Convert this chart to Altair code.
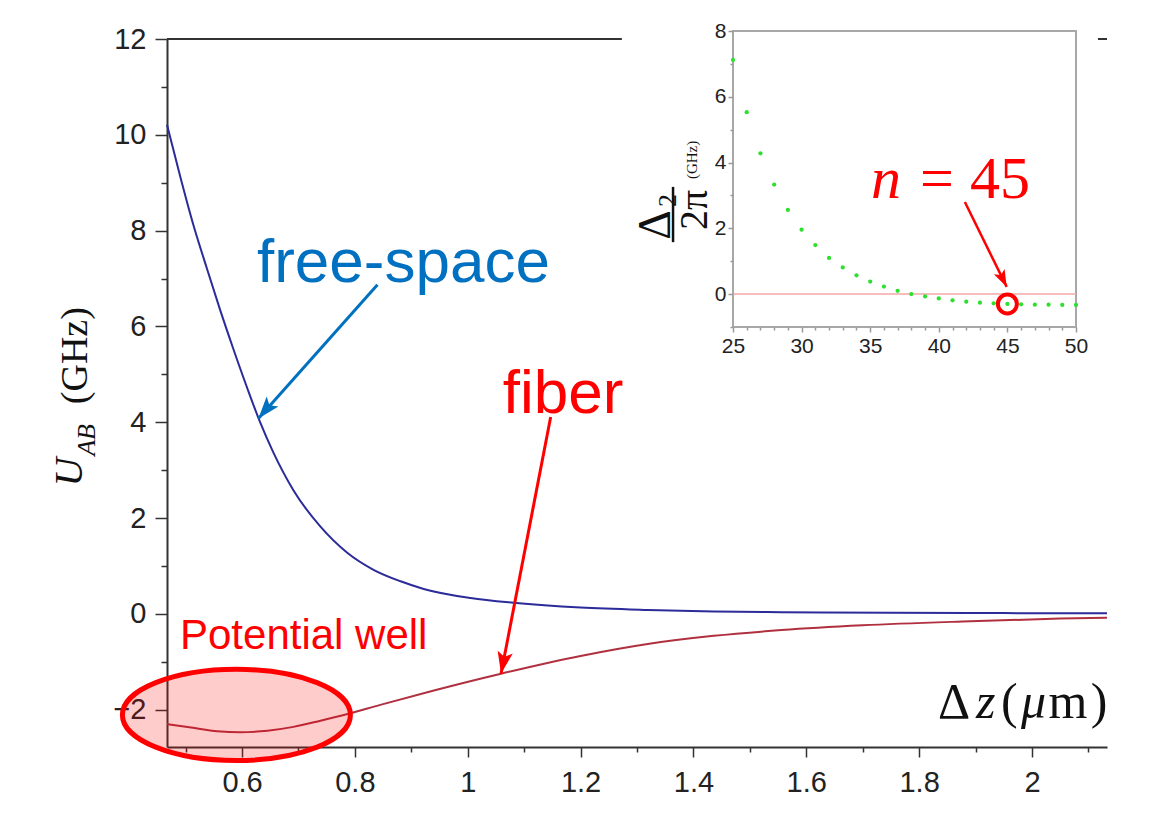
import altair as alt
import pandas as pd

# ---------------- data ----------------
fs_z = [0.467, 0.49, 0.513, 0.538, 0.561, 0.584, 0.609, 0.632, 0.655, 0.691, 0.739,
        0.787, 0.833, 0.881, 0.922, 1.005, 1.081, 1.2, 1.319, 1.436, 1.556, 1.75, 1.95, 2.133]
fs_U = [10.21, 9.15, 8.15, 7.2, 6.35, 5.55, 4.72, 4.0, 3.38, 2.58, 1.82,
        1.27, 0.92, 0.68, 0.52, 0.33, 0.23, 0.13, 0.08, 0.05, 0.035, 0.02, 0.015, 0.01]

fb_z = [0.467, 0.513, 0.556, 0.597, 0.645, 0.691, 0.739, 0.787, 0.845, 0.94, 1.059,
        1.2, 1.319, 1.436, 1.556, 1.7, 1.877, 2.05, 2.133]
fb_U = [-2.30, -2.38, -2.45, -2.47, -2.44, -2.36, -2.23, -2.09, -1.90, -1.60, -1.25,
        -0.88, -0.63, -0.46, -0.34, -0.24, -0.16, -0.10, -0.08]

inset_n = list(range(25, 51))
inset_d = [7.12, 5.53, 4.28, 3.33, 2.56, 1.96, 1.49, 1.10, 0.81, 0.57, 0.38, 0.23, 0.10,
           0.0, -0.07, -0.13, -0.19, -0.23, -0.26, -0.28, -0.30, -0.31, -0.32, -0.32, -0.33, -0.33]

x_ticks = [0.5, 0.6, 0.7, 0.8, 0.9, 1.0, 1.1, 1.2, 1.3, 1.4, 1.5, 1.6, 1.7, 1.8, 1.9, 2.0, 2.1]
y_ticks = [-2, -1, 0, 1, 2, 3, 4, 5, 6, 7, 8, 9, 10, 11, 12]
in_x_ticks = list(range(25, 51))
in_y_ticks = [-1, 0, 1, 2, 3, 4, 5, 6, 7, 8]

SANS = "Liberation Sans"
SERIF = "Liberation Serif"
RED = "#ff0000"
BLUE_TXT = "#0070c0"

# ---------------- main scales / axes ----------------
XM = alt.X("z:Q",
           scale=alt.Scale(domain=[0.467, 2.133], nice=False, zero=False),
           axis=alt.Axis(values=x_ticks, format=".1~f", grid=False, title=None,
                         labelExpr="abs(round(datum.value*10)) % 2 == 0 ? datum.label : ''",
                         tickSize={"condition": {"test": "abs(round(datum.value*10)) % 2 == 0", "value": 10}, "value": 5},
                         domainColor="#333", domainWidth=2, tickColor="#333", tickWidth=1.5,
                         labelFont=SANS, labelFontSize=29, labelColor="#222", labelPadding=11,
                         labelFlush=False, labelOverlap=False, zindex=0))
YM = alt.Y("U:Q",
           scale=alt.Scale(domain=[-2.78, 12], nice=False, zero=False),
           axis=alt.Axis(values=y_ticks, grid=False, title=None,
                         labelExpr="abs(datum.value) % 2 == 0 ? datum.label : ''",
                         tickSize={"condition": {"test": "abs(datum.value) % 2 == 0", "value": 12}, "value": 6},
                         domainColor="#333", domainWidth=2, tickColor="#333", tickWidth=1.5,
                         labelFont=SANS, labelFontSize=29, labelColor="#222", labelPadding=9,
                         labelFlush=False, labelOverlap=False, zindex=0))


def mdf(**kw):
    return pd.DataFrame({k: [v] for k, v in kw.items()})


def mtext(z, U, s, size, color="#000", font=SANS, style="normal", align="center",
          baseline="alphabetic", angle=0):
    return alt.Chart(mdf(z=z, U=U)).mark_text(
        text=s, font=font, fontSize=size, fontStyle=style, color=color,
        align=align, baseline=baseline, angle=angle).encode(x=XM, y=YM)


ARROW = "M0,0 L-0.35,1 L0,0.78 L0.35,1 Z"
ELLIPSE = ("M1,0 C1,0.2209 0.5523,0.4 0,0.4 C-0.5523,0.4 -1,0.2209 -1,0 "
           "C-1,-0.2209 -0.5523,-0.4 0,-0.4 C0.5523,-0.4 1,-0.2209 1,0 Z")

top_line = alt.Chart(mdf(z=0.467, U=12, z2=2.133)).mark_rule(
    color="#333", strokeWidth=2).encode(x=XM, y=YM, x2="z2:Q")

fs_line = alt.Chart(pd.DataFrame({"z": fs_z, "U": fs_U})).mark_line(
    color="#2b2b99", strokeWidth=2, interpolate="monotone").encode(x=XM, y=YM)
fb_line = alt.Chart(pd.DataFrame({"z": fb_z, "U": fb_U})).mark_line(
    color="#b03040", strokeWidth=2, interpolate="monotone").encode(x=XM, y=YM)

ellipse = alt.Chart(mdf(z=0.590, U=-2.11)).mark_point(
    shape=ELLIPSE, size=51984, filled=True, fill=RED, fillOpacity=0.2,
    stroke=RED, strokeWidth=5, strokeOpacity=1, opacity=1).encode(x=XM, y=YM)

blue_arrow = alt.Chart(mdf(z=0.840, U=6.87, z2=0.629, U2=4.08)).mark_rule(
    color=BLUE_TXT, strokeWidth=3).encode(x=XM, y=YM, x2="z2:Q", y2="U2:Q")
blue_head = alt.Chart(mdf(z=0.629, U=4.08)).mark_point(
    shape=ARROW, size=1936, angle=220, filled=True, color=BLUE_TXT, opacity=1,
    strokeWidth=0).encode(x=XM, y=YM)

red_arrow = alt.Chart(mdf(z=1.147, U=4.11, z2=1.059, U2=-1.25)).mark_rule(
    color=RED, strokeWidth=3).encode(x=XM, y=YM, x2="z2:Q", y2="U2:Q")
red_head = alt.Chart(mdf(z=1.059, U=-1.25)).mark_point(
    shape=ARROW, size=1936, angle=191, filled=True, color=RED, opacity=1,
    strokeWidth=0).encode(x=XM, y=YM)

main_texts = [
    mtext(0.886, 6.93, "free-space", 62, BLUE_TXT),
    mtext(1.169, 4.20, "fiber", 62, RED),
    mtext(0.490, -0.73, "Potential well", 42, RED, align="left"),
    # y-axis title  U_AB (GHz)
    mtext(0.295, 2.96, "U", 40, "#111", SERIF, "italic", baseline="middle", angle=270),
    mtext(0.325, 3.63, "AB", 26, "#111", SERIF, "italic", baseline="middle", angle=270),
    mtext(0.305, 5.39, "(GHz)", 38, "#111", SERIF, baseline="middle", angle=270),
    # x-axis title  Δz(μm)
    mtext(1.862, -2.17, "Δ", 50, "#111", SERIF),
    mtext(1.918, -2.17, "z", 50, "#111", SERIF, "italic"),
    mtext(1.960, -2.17, "(", 50, "#111", SERIF),
    mtext(2.003, -2.17, "μ", 50, "#111", SERIF, "italic"),
    mtext(2.064, -2.17, "m", 50, "#111", SERIF),
    mtext(2.119, -2.17, ")", 50, "#111", SERIF),
]

main_layer = alt.layer(top_line, fs_line, fb_line, ellipse, blue_arrow, blue_head,
                       red_arrow, red_head, *main_texts)

# ---------------- inset scales / axes ----------------
XI = alt.X("n:Q",
           scale=alt.Scale(domain=[25, 50], range=[566, 909], nice=False, zero=False),
           axis=alt.Axis(values=in_x_ticks, orient="bottom", offset=-420, grid=False, title=None,
                         domain=False,
                         labelExpr="datum.value % 5 == 0 ? datum.label : ''",
                         tickSize={"condition": {"test": "datum.value % 5 == 0", "value": 5}, "value": 3},
                         tickColor="#999", tickWidth=1.5,
                         labelFont=SANS, labelFontSize=21, labelColor="#222", labelPadding=3,
                         labelFlush=False, labelOverlap=False, zindex=1))
YI = alt.Y("d:Q",
           scale=alt.Scale(domain=[-1, 8], range=[288, -8], nice=False, zero=False),
           axis=alt.Axis(values=in_y_ticks, orient="left", offset=-566, grid=False, title=None,
                         domain=False,
                         labelExpr="abs(datum.value) % 2 == 0 ? datum.label : ''",
                         tickSize={"condition": {"test": "abs(datum.value) % 2 == 0", "value": 5}, "value": 3},
                         tickColor="#999", tickWidth=1.5,
                         labelFont=SANS, labelFontSize=21, labelColor="#222", labelPadding=2,
                         labelFlush=False, labelOverlap=False, zindex=1))


def idf(**kw):
    return pd.DataFrame({k: [v] for k, v in kw.items()})


def itext(n, d, s, size, color="#000", font=SERIF, style="normal", align="center",
          baseline="alphabetic", angle=0):
    return alt.Chart(idf(n=n, d=d)).mark_text(
        text=s, font=font, fontSize=size, fontStyle=style, color=color,
        align=align, baseline=baseline, angle=angle).encode(x=XI, y=YI)


cover = alt.Chart(idf(n=16.9, d=-2.0, n2=51.6, d2=8.6)).mark_rect(
    color="white", opacity=1).encode(x=XI, y=YI, x2="n2:Q", y2="d2:Q")
frame = alt.Chart(idf(n=25, d=-1, n2=50, d2=8)).mark_rect(
    fillOpacity=0, stroke="#a8a8a8", strokeWidth=2).encode(x=XI, y=YI, x2="n2:Q", y2="d2:Q")
zero_line = alt.Chart(idf(n=25, d=0, n2=50)).mark_rule(
    color="#f4a6a6", strokeWidth=1.5).encode(x=XI, y=YI, x2="n2:Q")
dots = alt.Chart(pd.DataFrame({"n": inset_n, "d": inset_d})).mark_circle(
    size=18, color="#2de02d", opacity=1).encode(x=XI, y=YI)
ring = alt.Chart(idf(n=inset_n[20], d=inset_d[20])).mark_point(
    shape="circle", filled=False, size=361, strokeWidth=4, color=RED, opacity=1).encode(x=XI, y=YI)
in_arrow = alt.Chart(idf(n=41.9, d=2.80, n2=44.95, d2=0.22)).mark_rule(
    color=RED, strokeWidth=2.5).encode(x=XI, y=YI, x2="n2:Q", y2="d2:Q")
in_head = alt.Chart(idf(n=44.95, d=0.22)).mark_point(
    shape=ARROW, size=1156, angle=154, filled=True, color=RED, opacity=1,
    strokeWidth=0).encode(x=XI, y=YI)
frac_bar = alt.Chart(idf(n=20.63, d=1.58, d2=3.26)).mark_rule(
    color="#111", strokeWidth=2.5).encode(x=XI, y=YI, y2="d2:Q")

inset_texts = [
    itext(36.15, 2.92, "n", 60, RED, style="italic"),
    itext(39.87, 2.92, "=", 60, RED),
    itext(44.46, 2.92, "45", 60, RED),
    itext(19.39, 2.10, "Δ", 46, "#111", baseline="middle", angle=270),
    itext(20.25, 2.85, "2", 26, "#111", baseline="middle", angle=270),
    itext(22.23, 2.56, "2π", 40, "#111", baseline="middle", angle=270),
    itext(22.0, 4.08, "(GHz)", 15, "#111", baseline="middle", angle=270),
]

inset_layer = alt.layer(cover, frame, zero_line, dots, ring, in_arrow, in_head, frac_bar,
                        *inset_texts)

chart = alt.layer(main_layer, inset_layer).resolve_scale(
    x="independent", y="independent"
).properties(
    width=940, height=708,
    autosize=alt.AutoSizeParams(type="none"),
    padding={"left": 159, "top": 31, "right": 43, "bottom": 64},
    background="white",
).configure_view(stroke=None)

chart.save("out.html", embed_options={"renderer": "svg", "actions": False})
